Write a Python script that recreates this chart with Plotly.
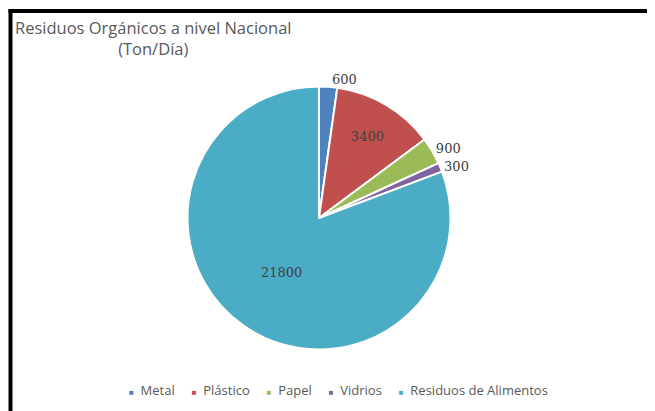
import plotly.graph_objects as go

categories = ["Metal", "Plástico", "Papel", "Vidrios", "Residuos de Alimentos"]
values = [600, 3400, 900, 300, 21800]
colors = ["#4F81BD", "#C0504D", "#9BBB59", "#8064A2", "#4BACC6"]
text_positions = ["outside", "inside", "outside", "outside", "inside"]
title_text = "Residuos Orgánicos a nivel Nacional<br>(Ton/Día)"

W, H = 655, 411
OFF = 8  # page body margin offset


def px(x):
    return (x - OFF) / W


def py(y):
    return 1 - (y - OFF) / H


cx, cy, r = 319, 218, 131.5

label_font = dict(family="DejaVu Serif, Liberation Serif, serif", size=13, color="#404040")

fig = go.Figure(go.Pie(
    labels=categories,
    values=values,
    marker=dict(colors=colors, line=dict(color="white", width=2)),
    sort=False,
    direction="clockwise",
    rotation=0,
    texttemplate="%{value:.0f}",
    textposition=text_positions,
    insidetextorientation="horizontal",
    textfont=label_font,
    outsidetextfont=label_font,
    insidetextfont=label_font,
    domain=dict(x=[px(cx - r), px(cx + r)], y=[py(cy + r), py(cy - r)]),
    hoverinfo="label+value",
    showlegend=False,
))

legend_sep = "&nbsp;" * 5
legend_text = legend_sep.join(
    f"<span style='color:{c};font-size:8px'>■</span>&nbsp;&nbsp;{name}"
    for name, c in zip(categories, colors)
)

fig.update_layout(
    width=W, height=H,
    margin=dict(l=0, r=0, t=0, b=0),
    paper_bgcolor="white",
    plot_bgcolor="white",
    font=dict(family="Open Sans, sans-serif", color="#595959"),
    showlegend=False,
    annotations=[
        dict(
            text=title_text,
            x=px(152.5), y=py(14),
            xref="paper", yref="paper",
            xanchor="center", yanchor="top",
            align="center",
            showarrow=False,
            font=dict(size=16.5, color="#595959", family="Open Sans, sans-serif"),
        ),
        dict(
            text=legend_text,
            x=px(338.5), y=py(390),
            xref="paper", yref="paper",
            xanchor="center", yanchor="middle",
            showarrow=False,
            font=dict(size=13, color="#595959", family="Open Sans, sans-serif"),
        ),
    ],
    shapes=[
        dict(type="line", xref="paper", yref="paper",
             x0=px(8.5), x1=1, y0=py(11), y1=py(11),
             line=dict(color="black", width=4)),
        dict(type="line", xref="paper", yref="paper",
             x0=px(10.5), x1=px(10.5), y0=py(9), y1=0,
             line=dict(color="black", width=4)),
    ],
)

fig.write_html("out.html")
